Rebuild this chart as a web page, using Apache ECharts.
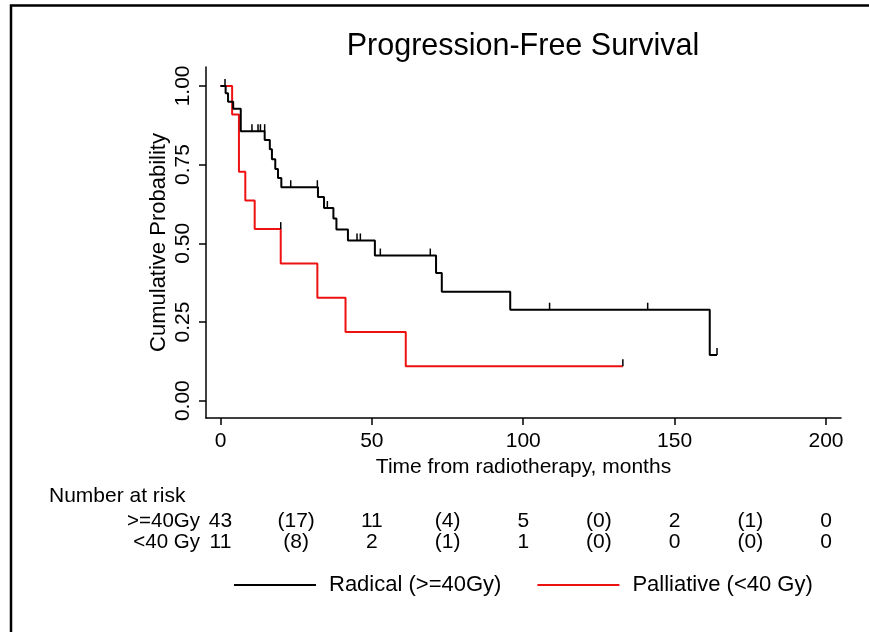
<!DOCTYPE html>
<html><head><meta charset="utf-8">
<script src="https://cdn.jsdelivr.net/npm/echarts@6/dist/echarts.min.js"></script>
<style>html,body{margin:0;padding:0;background:#fff}#c{width:869px;height:632px}</style>
</head><body><div id="c"></div>
<script>
// ---- data ----
const radicalSteps = [[0,1],[1.7,0.977],[2.5,0.950],[4.2,0.927],[6.7,0.856],[14.6,0.828],[16.3,0.799],[17.0,0.767],[18.1,0.736],[19.0,0.707],[20.1,0.678],[32.2,0.647],[34.2,0.612],[37.3,0.579],[38.3,0.544],[42.1,0.509],[51.0,0.461],[71.2,0.406],[73.1,0.346],[95.7,0.289],[161.6,0.145],[164.0,0.145]];
const radicalCensored = [[1.5,1.0],[10.4,0.856],[12.4,0.856],[13.2,0.856],[14.6,0.856],[23.2,0.678],[32.0,0.678],[35.3,0.612],[45.1,0.509],[46.2,0.509],[52.8,0.461],[69.3,0.461],[108.7,0.289],[141.1,0.289],[164.0,0.145]];
const palliativeSteps = [[0,1],[3.85,0.909],[6.1,0.727],[8.2,0.636],[11.3,0.545],[19.9,0.436],[32.0,0.327],[41.3,0.218],[61.2,0.109],[132.9,0.109]];
const palliativeCensored = [[19.9,0.545],[132.9,0.109]];
const xTicks = [0,50,100,150,200];
const yTicks = [0,0.25,0.5,0.75,1];
const riskTimes = [0,25,50,75,100,125,150,175,200];
const riskGroups = ['>=40Gy','<40 Gy'];
const riskRadical = ['43','(17)','11','(4)','5','(0)','2','(1)','0'];
const riskPalliative = ['11','(8)','2','(1)','1','(0)','0','(0)','0'];
const seriesNames = ['Radical (>=40Gy)','Palliative (<40 Gy)'];
const titleText = 'Progression-Free Survival';

const FONT = "'Liberation Sans', Arial, sans-serif";
const BLACK = '#000000', RED = '#ee1111';
const XMIN = -4.78, XMAX = 204.95, YMIN = -0.055, YMAX = 1.06;

const tableData = [];
riskTimes.forEach((t,i)=>{
  tableData.push([t, riskGroups[0], riskRadical[i]]);
  tableData.push([t, riskGroups[1], riskPalliative[i]]);
});

const chart = echarts.init(document.getElementById('c'), null, {renderer:'canvas'});
chart.setOption({
  animation:false,
  backgroundColor:'#fff',
  textStyle:{fontFamily:FONT},
  title:[
    {text:titleText, top:26, left:518, textAlign:'center', textStyle:{fontFamily:FONT,fontSize:30.5,fontWeight:'normal',color:'#000'}},
    {text:'Number at risk', left:44, top:481, textStyle:{fontFamily:FONT,fontSize:21,fontWeight:'normal',color:'#000'}}
  ],
  legend:{
    data:seriesNames, left:234, top:574, padding:0, icon:'rect', itemWidth:82, itemHeight:2, itemGap:36,
    textStyle:{fontFamily:FONT,fontSize:22,color:'#000',padding:[0,0,0,8]}
  },
  grid:[
    {left:206, top:67, right:28, bottom:214, containLabel:false},
    {left:206, top:511, right:28, height:42, containLabel:false}
  ],
  xAxis:[
    {type:'value', gridIndex:0, min:XMIN, max:XMAX,
     name:'Time from radiotherapy, months', nameLocation:'middle', nameGap:37,
     nameTextStyle:{fontFamily:FONT,fontSize:21,color:'#000'},
     axisLine:{show:true,onZero:false,lineStyle:{color:'#000',width:1.5}},
     axisTick:{show:true,length:7,customValues:xTicks,lineStyle:{color:'#000',width:1.5}},
     axisLabel:{customValues:xTicks,fontFamily:FONT,fontSize:21,color:'#000',margin:13},
     splitLine:{show:false}},
    {type:'value', gridIndex:1, min:XMIN, max:XMAX, show:false}
  ],
  yAxis:[
    {type:'value', gridIndex:0, min:YMIN, max:YMAX,
     name:'Cumulative Probability', nameLocation:'middle', nameGap:36, nameRotate:90, nameMoveOverlap:false,
     nameTextStyle:{fontFamily:FONT,fontSize:22,color:'#000'},
     axisLine:{show:true,onZero:false,lineStyle:{color:'#000',width:1.5}},
     axisTick:{show:true,length:7,customValues:yTicks,lineStyle:{color:'#000',width:1.5}},
     axisLabel:{customValues:yTicks,rotate:90,fontFamily:FONT,fontSize:21,color:'#000',margin:12,
       formatter:v=>Number(v).toFixed(2)},
     splitLine:{show:false}},
    {type:'category', gridIndex:1, data:riskGroups, inverse:true,
     axisLine:{show:false}, axisTick:{show:false},
     axisLabel:{interval:0,fontFamily:FONT,fontSize:20.5,color:'#000',margin:6}}
  ],
  series:[
    {name:seriesNames[0], type:'line', step:'end', data:radicalSteps, showSymbol:false, symbol:'none',
     color:BLACK, itemStyle:{color:BLACK}, lineStyle:{color:BLACK,width:2}, xAxisIndex:0, yAxisIndex:0, z:3},
    {name:seriesNames[1], type:'line', step:'end', data:palliativeSteps, showSymbol:false, symbol:'none',
     color:RED, itemStyle:{color:RED}, lineStyle:{color:RED,width:2}, xAxisIndex:0, yAxisIndex:0, z:2},
    {name:'radical censored', type:'scatter', data:radicalCensored, symbol:'rect', symbolSize:[1.5,7], symbolOffset:[0,-3.5],
     itemStyle:{color:BLACK,opacity:1}, xAxisIndex:0, yAxisIndex:0, z:4},
    {name:'palliative censored', type:'scatter', data:palliativeCensored, symbol:'rect', symbolSize:[1.5,7], symbolOffset:[0,-3.5],
     itemStyle:{color:BLACK,opacity:1}, xAxisIndex:0, yAxisIndex:0, z:4},
    {name:'at risk', type:'scatter', data:tableData, xAxisIndex:1, yAxisIndex:1, symbolSize:0,
     itemStyle:{opacity:1,color:'#000'},
     label:{show:true, position:'inside', formatter:p=>p.value[2], fontFamily:FONT, fontSize:21, color:'#000', opacity:1, textBorderWidth:0}}
  ],
  graphic:[
    {type:'polyline', shape:{points:[[11,632],[11,5.5],[869,5.5]]}, style:{stroke:'#000',lineWidth:2.5,fill:null}, silent:true}
  ]
});
</script></body></html>
